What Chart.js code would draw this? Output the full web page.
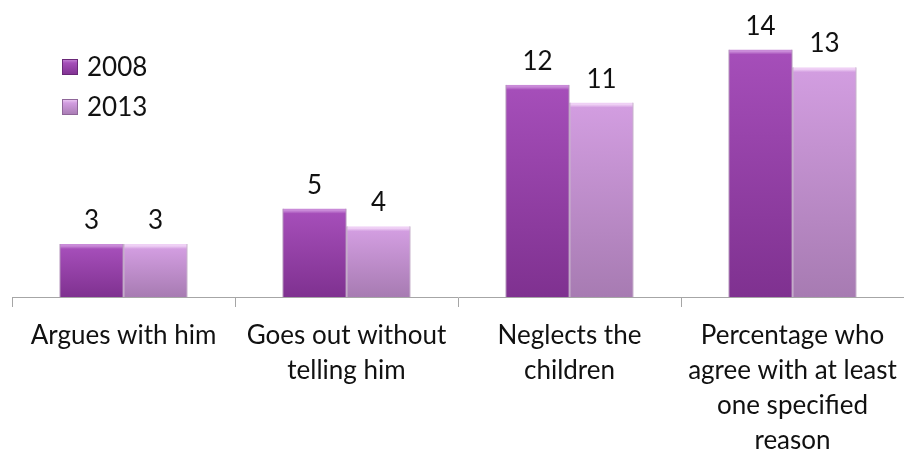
<!DOCTYPE html>
<html>
<head>
<meta charset="utf-8">
<script src="https://cdn.jsdelivr.net/npm/chart.js@4"></script>
<style>
    html, body { margin: 0; padding: 0; background: #fff; }
    #wrap { width: 904px; height: 451px; }
</style>
</head>
<body>
<div id="wrap"><canvas id="myChart"></canvas></div>
<script>
// categories + values
const labels = [
    ['Argues with him'],
    ['Goes out without', 'telling him'],
    ['Neglects the', 'children'],
    ['Percentage who', 'agree with at least', 'one specified', 'reason']
];
const years = ['2008', '2013'];
const values2008 = [3, 5, 12, 14];
const values2013 = [3, 4, 11, 13];

// colours: [top highlight, top, bottom, edge]
const shades = [
    ['#c98ad8', '#a54eb9', '#7f3190', '#6a2878'],
    ['#efd0f5', '#d29de0', '#a77bb2', '#8f6699']
];

const FONT = 'Lato, "Liberation Sans", sans-serif';

// gradient per bar, from its own top down to the base line
function barFill(ctx) {
    const chart = ctx.chart;
    if (!chart.chartArea || ctx.parsed === undefined) return shades[ctx.datasetIndex][1];
    const y = chart.scales.y;
    const top = y.getPixelForValue(ctx.parsed.y);
    const base = y.getPixelForValue(0);
    const s = shades[ctx.datasetIndex];
    const g = chart.ctx.createLinearGradient(0, top, 0, base);
    const h = Math.max(base - top, 1);
    const edge = Math.min(5 / h, 0.3);
    g.addColorStop(0, s[0]);
    g.addColorStop(edge * 0.4, s[0]);
    g.addColorStop(edge, s[1]);
    g.addColorStop(1, s[2]);
    return g;
}

// number above each bar
const valueLabels = {
    id: 'valueLabels',
    afterDatasetsDraw(chart) {
        const c = chart.ctx;
        c.save();
        c.font = '26px ' + FONT;
        c.fillStyle = '#111';
        c.textAlign = 'center';
        c.textBaseline = 'alphabetic';
        chart.data.datasets.forEach((ds, i) => {
            chart.getDatasetMeta(i).data.forEach((bar, j) => {
                c.fillText(ds.data[j], bar.x, bar.y - 15);
            });
        });
        c.restore();
    }
};

// legend in the top left corner
const cornerLegend = {
    id: 'cornerLegend',
    afterDraw(chart) {
        const c = chart.ctx;
        c.save();
        c.font = '26px ' + FONT;
        c.textBaseline = 'middle';
        chart.data.datasets.forEach((ds, i) => {
            const y = 67 + i * 40;
            const s = shades[i];
            const g = c.createLinearGradient(0, y - 8, 0, y + 8);
            g.addColorStop(0, s[0]);
            g.addColorStop(0.25, s[1]);
            g.addColorStop(1, s[2]);
            c.fillStyle = g;
            c.fillRect(62, y - 8, 16, 16);
            c.strokeStyle = s[3];
            c.lineWidth = 1;
            c.strokeRect(62.5, y - 7.5, 15, 15);
            c.fillStyle = '#111';
            c.fillText(ds.label, 87, y + 1);
        });
        c.restore();
    }
};

const ctx = document.getElementById('myChart');
const myChart = new Chart(ctx, {
    type: 'bar',
    data: {
        labels: labels,
        datasets: [{
            label: years[0],
            data: values2008,
            backgroundColor: barFill,
            borderColor: shades[0][3],
            borderWidth: { left: 1, right: 1, top: 0, bottom: 0 }
        }, {
            label: years[1],
            data: values2013,
            backgroundColor: barFill,
            borderColor: shades[1][3],
            borderWidth: { left: 1, right: 1, top: 0, bottom: 0 }
        }]
    },
    options: {
        responsive: true,
        maintainAspectRatio: false,
        animation: false,
        layout: { padding: { left: 12, right: 0, top: 0, bottom: 0 } },
        datasets: {
            bar: { categoryPercentage: 0.574, barPercentage: 1 }
        },
        plugins: {
            legend: { display: false },
            tooltip: { enabled: false }
        },
        scales: {
            y: {
                display: false,
                min: 0,
                max: 16.8
            },
            x: {
                afterFit(scale) {
                    scale.height = 154;
                    scale.paddingLeft = 0;
                    scale.paddingRight = 0;
                },
                border: { display: true, color: '#a6a6a6', width: 1 },
                grid: {
                    offset: true,
                    drawOnChartArea: false,
                    drawTicks: true,
                    tickLength: 10,
                    color: '#a6a6a6'
                },
                ticks: {
                    autoSkip: false,
                    maxRotation: 0,
                    minRotation: 0,
                    padding: 11,
                    color: '#111',
                    font: { family: FONT, size: 26, lineHeight: 1.35 }
                }
            }
        }
    },
    plugins: [valueLabels, cornerLegend]
});
</script>
</body>
</html>
